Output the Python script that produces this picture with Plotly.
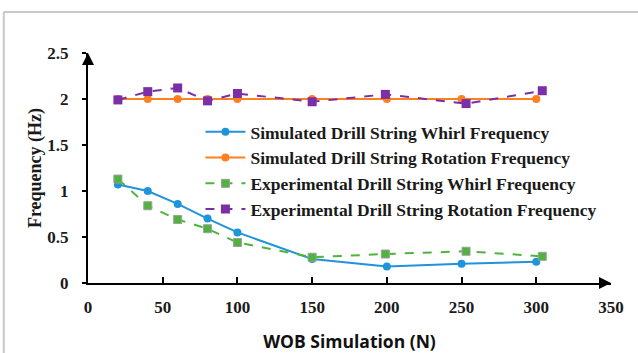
import plotly.graph_objects as go

# WOB values (N) and measured / simulated frequencies (Hz)
wob_sim = [20, 40, 60, 80, 100, 150, 200, 250, 300]
sim_whirl = [1.07, 1.00, 0.86, 0.70, 0.55, 0.26, 0.18, 0.21, 0.23]
sim_rotation = [2.0, 2.0, 2.0, 2.0, 2.0, 2.0, 2.0, 2.0, 2.0]

wob_exp = [20, 40, 60, 80, 100, 150, 199, 253, 304]
exp_whirl = [1.13, 0.84, 0.69, 0.59, 0.44, 0.28, 0.315, 0.345, 0.29]
exp_rotation = [1.99, 2.08, 2.12, 1.98, 2.06, 1.97, 2.05, 1.95, 2.09]

x_ticks = [0, 50, 100, 150, 200, 250, 300, 350]
x_tick_text = ["<b>%d</b>" % v for v in x_ticks]
y_ticks = [0, 0.5, 1, 1.5, 2, 2.5]
y_tick_text = ["<b>0</b>", "<b>0.5</b>", "<b>1</b>", "<b>1.5</b>", "<b>2</b>", "<b>2.5</b>"]

serif = "Liberation Serif"

fig = go.Figure()
fig.add_trace(go.Scatter(
    x=wob_sim, y=sim_whirl, mode="lines+markers",
    name="<b>Simulated Drill String Whirl Frequency</b>",
    line=dict(color="#1F94DA", width=2),
    marker=dict(symbol="circle", size=8, color="#1F94DA"),
))
fig.add_trace(go.Scatter(
    x=wob_sim, y=sim_rotation, mode="lines+markers",
    name="<b>Simulated Drill String Rotation Frequency</b>",
    line=dict(color="#FF7F21", width=2),
    marker=dict(symbol="circle", size=8, color="#FF7F21"),
))
fig.add_trace(go.Scatter(
    x=wob_exp, y=exp_whirl, mode="lines+markers",
    name="<b>Experimental Drill String Whirl Frequency</b>",
    line=dict(color="#4EB43C", width=2, dash="dash"),
    marker=dict(symbol="square", size=8, color="#4EB43C",
                line=dict(color="#9E9E9E", width=1)),
))
fig.add_trace(go.Scatter(
    x=wob_exp, y=exp_rotation, mode="lines+markers",
    name="<b>Experimental Drill String Rotation Frequency</b>",
    line=dict(color="#7A2FA6", width=2, dash="dash"),
    marker=dict(symbol="square", size=9, color="#7A2FA6"),
))

# Arrow heads at the ends of both axes
fig.add_annotation(x=0, y=2.5, xref="x", yref="y", ax=0, ay=12, text="",
                   showarrow=True, arrowhead=2, arrowsize=1.2, arrowwidth=2,
                   arrowcolor="black")
fig.add_annotation(x=350, y=0, xref="x", yref="y", ax=-12, ay=0, text="",
                   showarrow=True, arrowhead=2, arrowsize=1.2, arrowwidth=2,
                   arrowcolor="black")

# Light frame along the top and left edges of the chart area
fig.add_shape(type="line", xref="paper", yref="paper", x0=-0.161, x1=1.06,
              y0=1.178, y1=1.178, line=dict(color="#C8C8C8", width=2))
fig.add_shape(type="line", xref="paper", yref="paper", x0=-0.161, x1=-0.161,
              y0=1.178, y1=-0.32, line=dict(color="#C8C8C8", width=2))

fig.update_layout(
    width=638, height=353,
    margin=dict(l=88, r=27, t=53, b=70, autoexpand=False),
    paper_bgcolor="white", plot_bgcolor="white",
    showlegend=True,
    legend=dict(
        x=0.215, y=0.735, xanchor="left", yanchor="top",
        font=dict(family=serif, size=17.5, color="#1a1a1a"),
        bgcolor="rgba(0,0,0,0)", tracegroupgap=0, itemwidth=40,
    ),
    xaxis=dict(
        range=[0, 350], tickvals=x_ticks, ticktext=x_tick_text,
        showline=True, linecolor="black", linewidth=2,
        ticks="inside", ticklen=6, tickwidth=2, tickcolor="black",
        showgrid=False, zeroline=False, ticklabelstandoff=8, automargin=False,
        tickfont=dict(family=serif, size=17, color="#1a1a1a"),
        title=dict(text="<b>WOB Simulation (N)</b>", standoff=24,
                   font=dict(family="Open Sans", size=17.5, color="#111")),
    ),
    yaxis=dict(
        range=[0, 2.5], tickvals=y_ticks, ticktext=y_tick_text,
        showline=True, linecolor="black", linewidth=2,
        ticks="outside", ticklen=4, tickwidth=2, tickcolor="black",
        showgrid=False, zeroline=False, ticklabelstandoff=10, automargin=False,
        tickfont=dict(family=serif, size=17, color="#1a1a1a"),
        title=dict(text="<b>Frequency (Hz)</b>", standoff=1,
                   font=dict(family=serif, size=18, color="#1a1a1a")),
    ),
)

fig.write_html("out.html")
